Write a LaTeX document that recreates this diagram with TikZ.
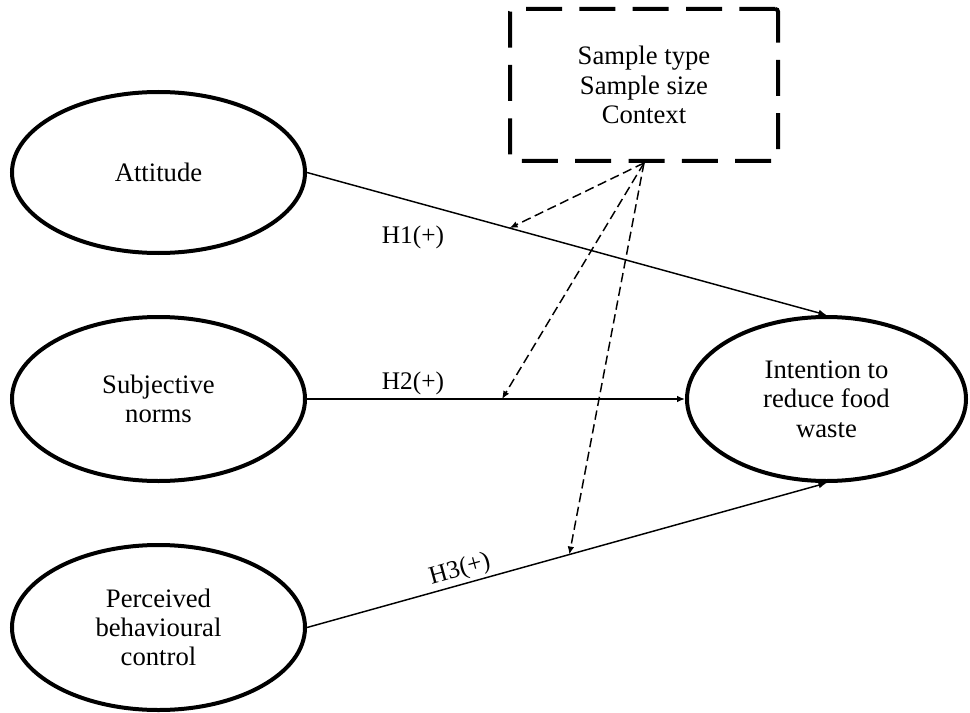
\documentclass[tikz,border=0pt]{standalone}
\usepackage{fontspec}
\setmainfont{Liberation Serif}
\usetikzlibrary{shapes.geometric,arrows.meta}
\begin{document}
\begin{tikzpicture}[x=0.75pt,y=-0.75pt,
  construct/.style={ellipse,draw,line width=3pt,inner sep=0pt,align=center,
    font=\fontsize{20}{22}\selectfont,minimum width=219.75pt},
  modbox/.style={rectangle,draw,line width=3pt,rounded corners=2pt,
    dash pattern=on 27pt off 13pt,align=center,inner sep=0pt,
    minimum width=201pt,minimum height=114pt,font=\fontsize{20}{22}\selectfont},
  path/.style={line width=1.1pt,-{Latex[length=6pt,width=5pt]}},
  modarrow/.style={line width=1.1pt,dash pattern=on 7pt off 3.5pt,-{Latex[length=6pt,width=5pt]}},
  hlabel/.style={font=\fontsize{19}{22}\selectfont,inner sep=0pt}]
\useasboundingbox (0,0) rectangle (970,713);
\node[construct,minimum height=120.75pt] (att) at (158.5,172.5) {Attitude};
\node[construct,minimum height=123pt] (sub) at (158.5,399) {Subjective\\norms};
\node[construct,minimum height=123.75pt] (per) at (158.5,627.5) {Perceived\\behavioural\\control};
\node[construct,minimum width=209.25pt,minimum height=123pt] (int) at (826.5,399) {Intention to\\reduce food\\waste};
\node[modbox] (mod) at (644,85) {Sample type\\Sample size\\Context};
\draw[path] (att.east) -- (int.north) coordinate[pos=0.39] (m1);
\draw[path] (sub.east) -- (int.west) coordinate[pos=0.516] (m2);
\draw[path] (per.east) -- (int.south) coordinate[pos=0.505] (m3);
\draw[modarrow] (mod.south) -- (m1);
\draw[modarrow] (mod.south) -- (m2);
\draw[modarrow] (mod.south) -- (m3);
\node[hlabel] (h1) at (413,237) {H1(+)};
\node[hlabel] (h2) at (413,383) {H2(+)};
\node[hlabel,rotate=15.5] (h3) at (460,570) {H3(+)};
\end{tikzpicture}
\end{document}
